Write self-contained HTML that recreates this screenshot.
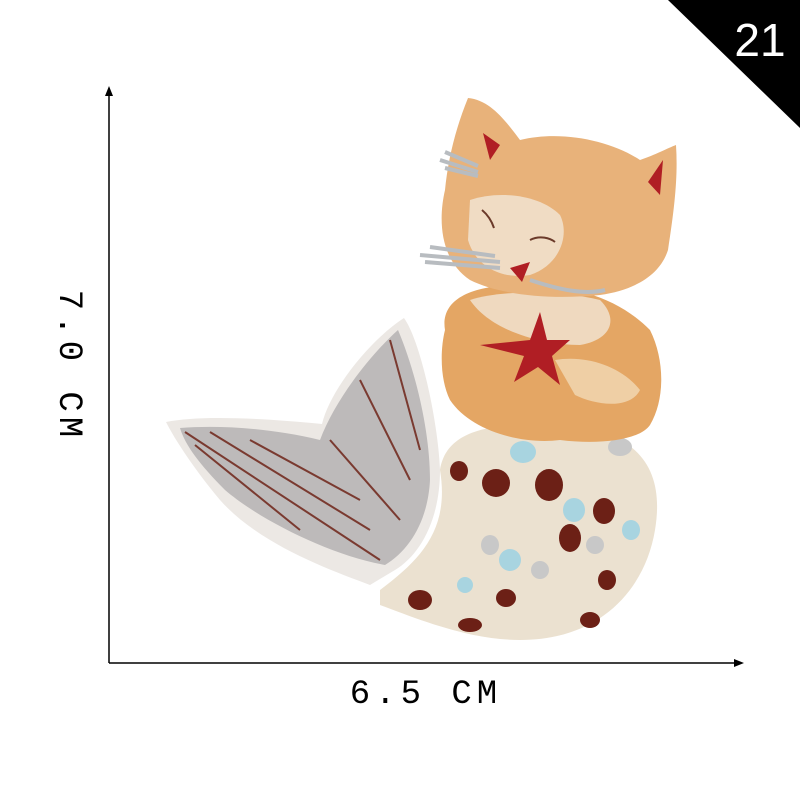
<!DOCTYPE html>
<html><head><meta charset="utf-8"><style>
html,body{margin:0;padding:0;background:#fff;}
svg{display:block;}
</style></head><body>
<svg width="800" height="800" viewBox="0 0 800 800">
<polygon points="668,0 800,0 800,128" fill="#000"/>
<text x="760" y="56" font-family="Liberation Sans, sans-serif" font-size="46" fill="#fff" text-anchor="middle">21</text>

<g stroke="#000" stroke-width="1.5">
<line x1="109" y1="92" x2="109" y2="663"/>
</g>
<polygon points="105,96 109,86 113,96" fill="#000"/>
<g stroke="#000" stroke-width="1.5">
<line x1="109" y1="663" x2="738" y2="663"/>
</g>
<polygon points="734,659 744,663 734,667" fill="#000"/>
<text transform="translate(60,366) rotate(90)" font-family="Liberation Mono, monospace" font-size="34" letter-spacing="5" fill="#000" text-anchor="middle">7.0 CM</text>
<text x="426" y="703" font-family="Liberation Mono, monospace" font-size="34" letter-spacing="5" fill="#000" text-anchor="middle">6.5 CM</text>

<g>
<path d="M166,422 C200,415 260,418 322,424 C330,390 370,340 404,318 C420,340 438,420 440,470 C440,520 420,555 395,570 L370,585 C330,570 260,545 220,500 C195,470 175,440 166,422 Z" fill="#ece8e4"/>
<path d="M180,428 C220,425 270,428 320,440 C335,400 370,355 398,330 C415,370 430,430 430,480 C428,520 410,550 385,565 C330,555 260,520 225,490 C200,465 185,445 180,428 Z" fill="#bdbaba"/>
<path d="M185,432 L380,560 M210,432 L370,530 M250,440 L360,500 M330,440 L400,520 M360,380 L410,480 M390,340 L420,450 M195,445 L300,530" stroke="#7a3a30" stroke-width="2" fill="none"/>
</g>
<g>
<path d="M380,590 C420,560 450,530 440,470 C445,440 470,420 560,425 C640,430 665,470 655,530 C645,590 600,640 520,640 C470,640 420,620 380,605 Z" fill="#ebe1d0"/>
<ellipse cx="496" cy="483" rx="14" ry="14" fill="#6c2016"/>
<ellipse cx="549" cy="485" rx="14" ry="16" fill="#6c2016"/>
<ellipse cx="604" cy="511" rx="11" ry="13" fill="#6c2016"/>
<ellipse cx="570" cy="538" rx="11" ry="14" fill="#6c2016"/>
<ellipse cx="459" cy="471" rx="9" ry="10" fill="#6c2016"/>
<ellipse cx="420" cy="600" rx="12" ry="10" fill="#6c2016"/>
<ellipse cx="506" cy="598" rx="10" ry="9" fill="#6c2016"/>
<ellipse cx="590" cy="620" rx="10" ry="8" fill="#6c2016"/>
<ellipse cx="470" cy="625" rx="12" ry="7" fill="#6c2016"/>
<ellipse cx="607" cy="580" rx="9" ry="10" fill="#6c2016"/>
<ellipse cx="523" cy="452" rx="13" ry="11" fill="#a8d4e0"/>
<ellipse cx="574" cy="510" rx="11" ry="12" fill="#a8d4e0"/>
<ellipse cx="631" cy="530" rx="9" ry="10" fill="#a8d4e0"/>
<ellipse cx="510" cy="560" rx="11" ry="11" fill="#a8d4e0"/>
<ellipse cx="465" cy="585" rx="8" ry="8" fill="#a8d4e0"/>
<ellipse cx="620" cy="447" rx="12" ry="9" fill="#c8c8c8"/>
<ellipse cx="490" cy="545" rx="9" ry="10" fill="#c8c8c8"/>
<ellipse cx="540" cy="570" rx="9" ry="9" fill="#c8c8c8"/>
<ellipse cx="595" cy="545" rx="9" ry="9" fill="#c8c8c8"/>
</g>
<g>
<path d="M445,330 C440,300 470,285 520,285 C580,285 620,300 650,330 C665,360 665,400 650,425 C640,440 600,445 560,440 C520,445 470,430 450,400 C440,380 440,350 445,330 Z" fill="#e4a664"/>
<path d="M470,300 C500,290 560,290 600,300 C620,320 610,340 580,345 C540,345 490,330 470,300 Z" fill="#efd9bf"/>
<path d="M555,360 C585,355 620,365 640,390 C630,410 595,405 575,395 Z" fill="#efcfa5"/>
</g>
<g>
<path d="M468,98 C490,100 505,120 520,140 C560,130 610,140 640,160 C655,155 668,148 676,145 C678,175 675,205 668,250 C660,275 635,290 600,295 C550,300 500,295 470,280 C440,260 438,220 445,190 C448,160 455,130 468,98 Z" fill="#e8b27a"/>
<path d="M470,200 C500,190 540,195 560,215 C570,235 560,265 530,275 C500,280 475,265 468,240 Z" fill="#f0dcc4"/>
<path d="M483,133 L500,145 L490,160 Z" fill="#b01e24"/>
<path d="M648,182 L663,160 L660,195 Z" fill="#b01e24"/>
<path d="M510,268 L530,262 L522,282 Z" fill="#b01e24"/>
<path d="M530,240 C540,235 550,238 555,242" stroke="#6b3a2a" stroke-width="2" fill="none"/>
<path d="M482,210 C488,215 492,222 494,228" stroke="#6b3a2a" stroke-width="2" fill="none"/>
</g>
<g stroke="#b8bcc0" stroke-width="4" fill="none">
<path d="M440,160 L478,172 M445,152 L478,166 M445,168 L478,176"/>
<path d="M420,255 L500,262 M425,262 L500,268 M430,247 L495,256"/>
<path d="M530,280 C560,290 585,295 605,290"/>
</g>
<polygon fill="#b01e24" points="540,312 547,340 570,340 552,356 560,385 538,367 514,382 524,356 480,345 530,340"/>
</svg>
</body></html>
